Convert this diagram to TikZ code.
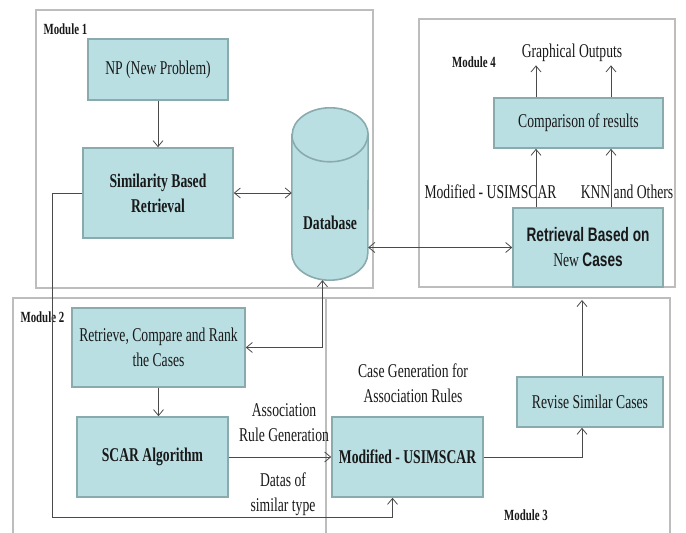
\documentclass[tikz,border=0pt]{standalone}
\usepackage{fontspec}
\setmainfont[FakeStretch=0.7]{Liberation Serif}
\setsansfont[FakeStretch=0.7]{Liberation Sans}
\usepackage{xcolor}
\usepackage{tikz}
\usetikzlibrary{arrows.meta}
\usetikzlibrary{shapes}
\usetikzlibrary{positioning}
\definecolor{boxfill}{HTML}{B9DFE3}
\definecolor{boxline}{HTML}{8AABAE}
\definecolor{frameline}{HTML}{BDBDBD}
\definecolor{arrowline}{HTML}{4A4A4A}
\tikzset{
  CaseBox/.style={
    rectangle, fill=boxfill, draw=boxline, line width=1.6pt,
    align=center, text=black!90,
    font=\fontsize{19.5}{25}\selectfont,
  },
  BoldBox/.style={CaseBox, font=\fontsize{19.5}{25}\selectfont\bfseries},
  DBLine/.style={fill=boxfill, draw=boxline, line width=1.6pt},
  ModFrame/.style={rectangle, draw=frameline, line width=2pt},
  ModLabel/.style={font=\fontsize{15.5}{18}\selectfont\bfseries, text=black!90},
  Note/.style={align=center, text=black!90, font=\fontsize{19.5}{25}\selectfont},
  Flow/.style={draw=arrowline, line width=0.8pt, -{Straight Barb[length=6pt,width=10pt]}},
  TwoWay/.style={draw=arrowline, line width=0.8pt,
    {Straight Barb[length=6pt,width=10pt]}-{Straight Barb[length=6pt,width=10pt]}},
}

\begin{document}
\begin{tikzpicture}[x=1pt,y=1pt]
\clip (0,0) rectangle (686,533);
% module frames
\node[ModFrame, minimum width=337pt, minimum height=278pt] (M1) at (204.5,384) {};
\node[ModFrame, minimum width=256pt, minimum height=268pt] (M4) at (547,380) {};
\node[ModFrame, minimum width=313pt, minimum height=255pt] (M2) at (169.5,107.5) {};
\node[ModFrame, minimum width=344pt, minimum height=255pt] (M3) at (498,107.5) {};
\node[ModLabel, anchor=west] (M1lab) at (40,504) {Module 1};
\node[ModLabel, anchor=west] (M2lab) at (17,216) {Module 2};
\node[ModLabel] (M3lab) at (526,18) {Module 3};
\node[ModLabel] (M4lab) at (474,471) {Module 4};

% boxes
\node[CaseBox, minimum width=140pt, minimum height=61pt] (NP) at (158,463.5) {NP (New Problem)};
\node[BoldBox, minimum width=150pt, minimum height=90pt] (SBR) at (158,340) {Similarity Based\\Retrieval};
% database cylinder
\node[minimum width=76pt, minimum height=172pt, inner sep=0pt] (DB) at (330,339) {};
\draw[DBLine] ([yshift=-27pt]DB.north west) -- ([yshift=27pt]DB.south west)
  arc (180:360:38 and 27) -- ([yshift=-27pt]DB.north east) arc (0:180:38 and 27) -- cycle;
\draw[DBLine, fill=none] ([yshift=-27pt]DB.north west) arc (180:360:38 and 27);
\node[Note, font=\fontsize{19.5}{25}\selectfont\bfseries] (DBtxt) at (330,310) {Database};
\node[CaseBox, minimum width=169pt, minimum height=50pt] (CMP) at (578.5,410) {Comparison of results};
\node[CaseBox, minimum width=150pt, minimum height=79pt] (RNC) at (588,285.5)
  {{\sffamily\bfseries Retrieval Based on}\\New {\sffamily\bfseries Cases}};
\node[CaseBox, minimum width=173pt, minimum height=79pt] (RCR) at (158.5,185.5) {Retrieve, Compare and Rank\\the Cases};
\node[BoldBox, minimum width=151pt, minimum height=80pt] (SCAR) at (152.5,76) {SCAR Algorithm};
\node[BoldBox, minimum width=151pt, minimum height=80pt] (MUS) at (407.5,76) {Modified - USIMSCAR};
\node[CaseBox, minimum width=146pt, minimum height=50pt] (REV) at (590,131) {Revise Similar Cases};

% texts
\node[Note] (GO) at (572,480) {Graphical Outputs};
\node[Note] (LMU) at (490.5,341) {Modified - USIMSCAR};
\node[Note] (LKNN) at (627,341) {KNN and Others};
\node[Note] (LCG) at (413,149.5) {Case Generation for\\Association Rules};
\node[Note] (LAR) at (284,110.5) {Association\\Rule Generation};
\node[Note] (LDS) at (283,38.5) {Datas of\\similar type};

% connectors
\coordinate (L1) at (536,0);
\coordinate (L2) at (611,0);
\coordinate (RevTop) at (582,233);
\draw[Flow] (NP.south) -- (SBR.north);
\draw[TwoWay] (SBR.east) -- (SBR.east -| DB.west);
\draw[TwoWay] (DB.east |- RNC.west) -- (RNC.west);
\draw[TwoWay] (RCR.east) -| (DB.265);
\draw[Flow] (SBR.west) -- ++(-30,0) |- ([xshift=-15pt,yshift=-20pt]MUS.south) -- ([xshift=-15pt]MUS.south);
\draw[Flow] (RCR.south) -- (RCR.south |- SCAR.north);
\draw[Flow] (SCAR.east) -- (MUS.west);
\draw[Flow] (MUS.east) -| (REV.south -| RevTop);
\draw[Flow] (REV.north -| RevTop) -- (RevTop);
\draw[Flow] (RNC.north -| L1) -- (CMP.south -| L1);
\draw[Flow] (RNC.north -| L2) -- (CMP.south -| L2);
\draw[Flow] (CMP.north -| L1) -- (GO.south -| L1);
\draw[Flow] (CMP.north -| L2) -- (GO.south -| L2);
\end{tikzpicture}
\end{document}
